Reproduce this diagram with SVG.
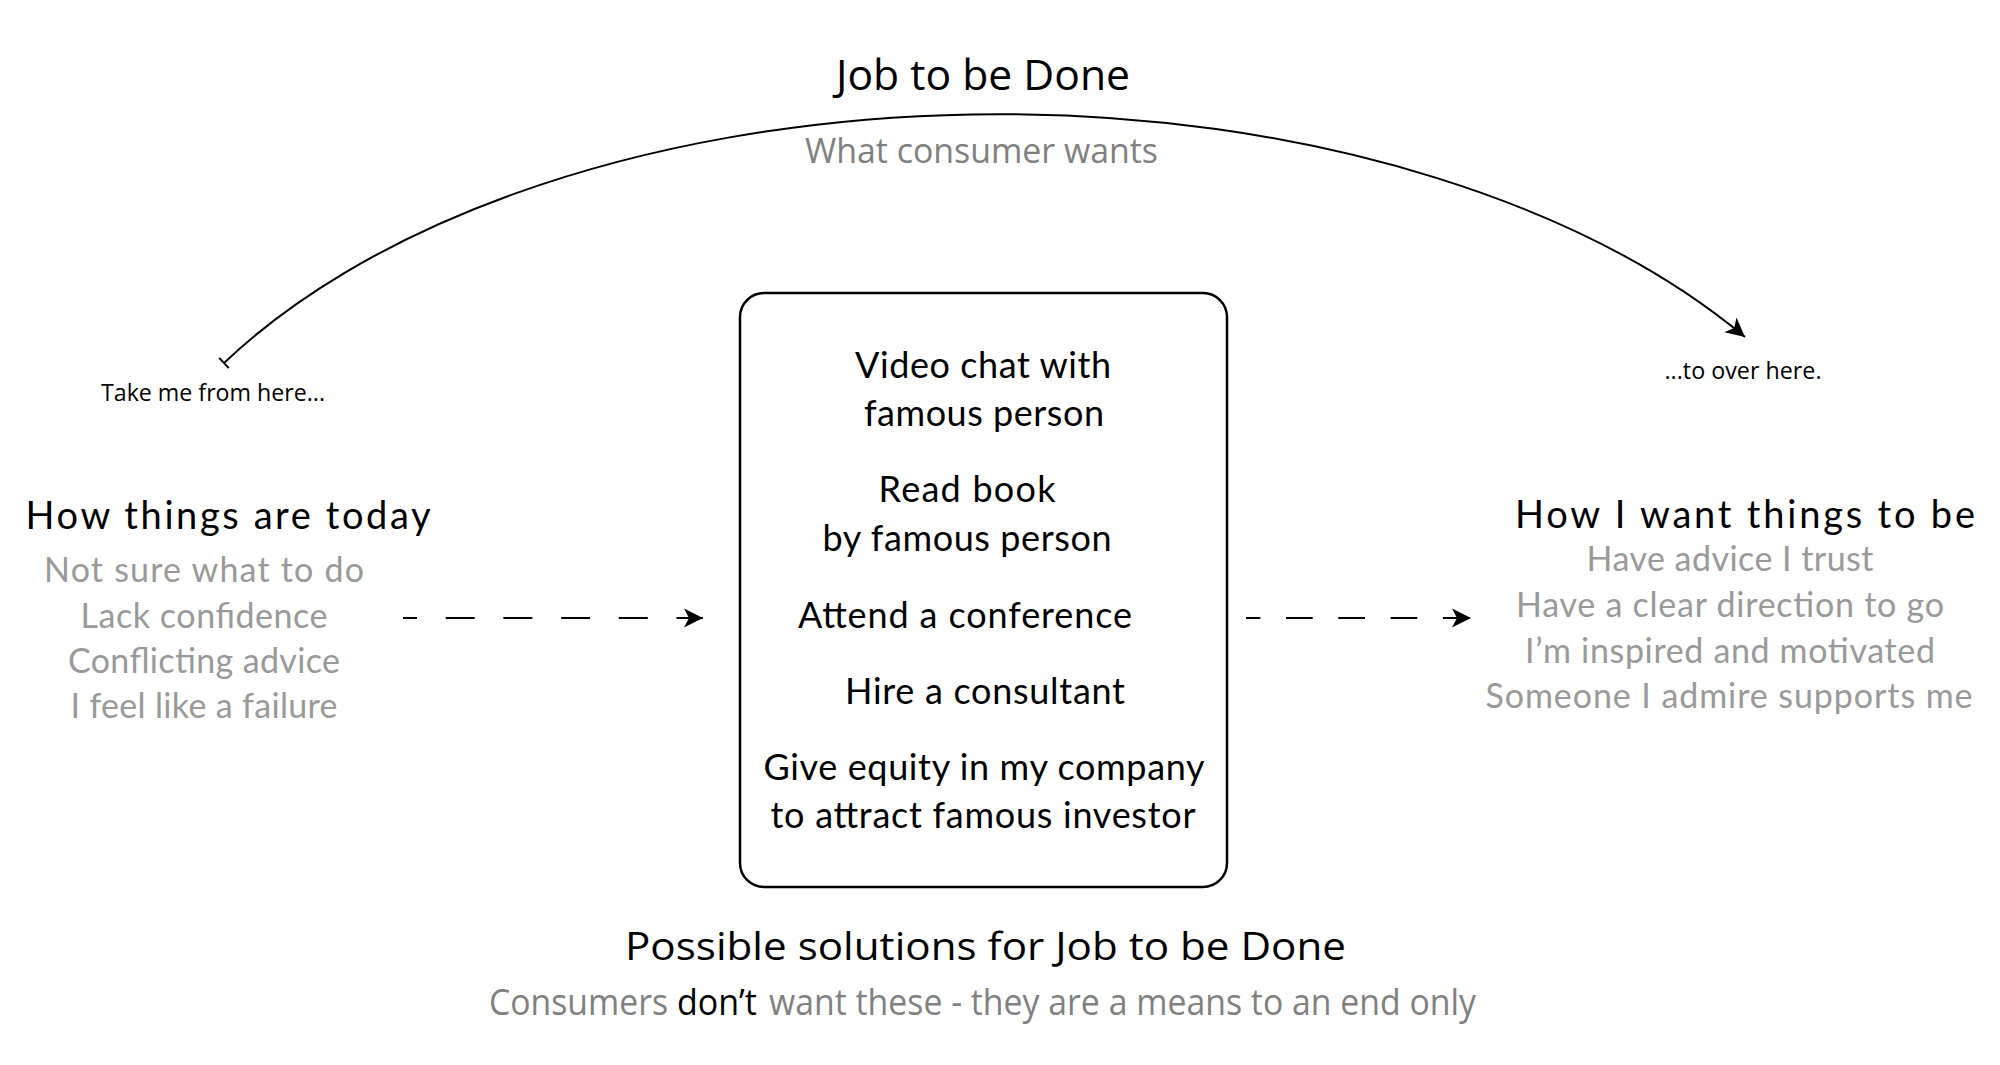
<svg xmlns="http://www.w3.org/2000/svg" width="2000" height="1065" viewBox="0 0 2000 1065">
<style>
.myr{font-family:"Open Sans","Liberation Sans",sans-serif;text-anchor:middle}
.gill{font-family:Lato,"Liberation Sans",sans-serif;text-anchor:middle}
.title{font-size:42px;fill:#000}
.sub{font-size:35px;fill:#808080}
.lbl{font-size:24px;fill:#000}
.head{font-size:38px;fill:#000}
.gray{font-size:34px;fill:#999999}
.box{font-size:36px;fill:#000}
.conn{fill:none;stroke:#000;stroke-width:2}
.dash{fill:none;stroke:#000;stroke-width:2.2}
</style>
<defs>
<marker id="arrow" viewBox="0 0 20 20" refX="19" refY="10" markerWidth="20" markerHeight="20" markerUnits="userSpaceOnUse" orient="auto">
<path d="M19,10 L0,0.5 L5,10 L0,19.5 Z" fill="#000"/>
</marker>
<marker id="tick" viewBox="-2 -8 4 16" refX="0" refY="0" markerWidth="4" markerHeight="16" markerUnits="userSpaceOnUse" orient="auto">
<path d="M0,-7 L0,7" stroke="#000" stroke-width="2"/>
</marker>
</defs>
<rect width="2000" height="1065" fill="#fff"/>

<g id="connectors">
<path class="conn" d="M224,363 A900,506 0 0 1 1745,337" marker-start="url(#tick)" marker-end="url(#arrow)"/>
<path class="dash" d="M403,618 L703,618" stroke-dasharray="29 28.7" stroke-dashoffset="15" marker-end="url(#arrow)"/>
<path class="dash" d="M1246,618 L1471,618" stroke-dasharray="26.7 25.6" stroke-dashoffset="12.3" marker-end="url(#arrow)"/>
</g>

<g id="job-title">
<text class="myr title" x="983" y="90" textLength="294" lengthAdjust="spacingAndGlyphs">Job to be Done</text>
<text class="myr sub" x="981.5" y="163" textLength="353" lengthAdjust="spacingAndGlyphs">What consumer wants</text>
</g>

<g id="label-from">
<text class="myr lbl" x="213" y="401" textLength="224" lengthAdjust="spacingAndGlyphs">Take me from here...</text>
</g>

<g id="label-to">
<text class="myr lbl" x="1743" y="379" textLength="157" lengthAdjust="spacingAndGlyphs">...to over here.</text>
</g>

<g id="today">
<text class="gill head" x="228" y="529" textLength="405" lengthAdjust="spacing">How things are today</text>
<text class="gill gray" x="204" y="582" textLength="320" lengthAdjust="spacing">Not sure what to do</text>
<text class="gill gray" x="204" y="628" textLength="247" lengthAdjust="spacing">Lack confidence</text>
<text class="gill gray" x="204" y="673" textLength="272" lengthAdjust="spacing">Conflicting advice</text>
<text class="gill gray" x="204" y="718" textLength="267" lengthAdjust="spacing">I feel like a failure</text>
</g>

<g id="solutions">
<rect x="740" y="293" width="487" height="594" rx="24" ry="24" fill="none" stroke="#000" stroke-width="2.5"/>
<text class="gill box" x="983" y="378" textLength="256" lengthAdjust="spacing">Video chat with</text>
<text class="gill box" x="984" y="426" textLength="240" lengthAdjust="spacing">famous person</text>
<text class="gill box" x="967" y="502" textLength="177" lengthAdjust="spacing">Read book</text>
<text class="gill box" x="967" y="551" textLength="289" lengthAdjust="spacing">by famous person</text>
<text class="gill box" x="965" y="628" textLength="334" lengthAdjust="spacing">Attend a conference</text>
<text class="gill box" x="985" y="704" textLength="280" lengthAdjust="spacing">Hire a consultant</text>
<text class="gill box" x="984" y="780" textLength="441" lengthAdjust="spacing">Give equity in my company</text>
<text class="gill box" x="983" y="828" textLength="425" lengthAdjust="spacing">to attract famous investor</text>
</g>

<g id="future">
<text class="gill head" x="1745" y="528" textLength="460" lengthAdjust="spacing">How I want things to be</text>
<text class="gill gray" x="1730" y="571" textLength="287" lengthAdjust="spacing">Have advice I trust</text>
<text class="gill gray" x="1730" y="617" textLength="428" lengthAdjust="spacing">Have a clear direction to go</text>
<text class="gill gray" x="1730" y="663" textLength="410" lengthAdjust="spacing">I’m inspired and motivated</text>
<text class="gill gray" x="1729" y="708" textLength="487" lengthAdjust="spacing">Someone I admire supports me</text>
</g>

<g id="solutions-caption">
<text class="myr title" x="985.5" y="960" style="font-size:39px" textLength="721" lengthAdjust="spacingAndGlyphs">Possible solutions for Job to be Done</text>
<text class="myr sub" x="489" y="1015" style="font-size:36px;text-anchor:start" textLength="179" lengthAdjust="spacingAndGlyphs">Consumers</text>
<text class="myr" x="677" y="1015" style="font-size:36px;text-anchor:start;fill:#000" textLength="80" lengthAdjust="spacingAndGlyphs">don’t</text>
<text class="myr sub" x="769" y="1015" style="font-size:36px;text-anchor:start" textLength="707" lengthAdjust="spacingAndGlyphs">want these - they are a means to an end only</text>
</g>
</svg>
